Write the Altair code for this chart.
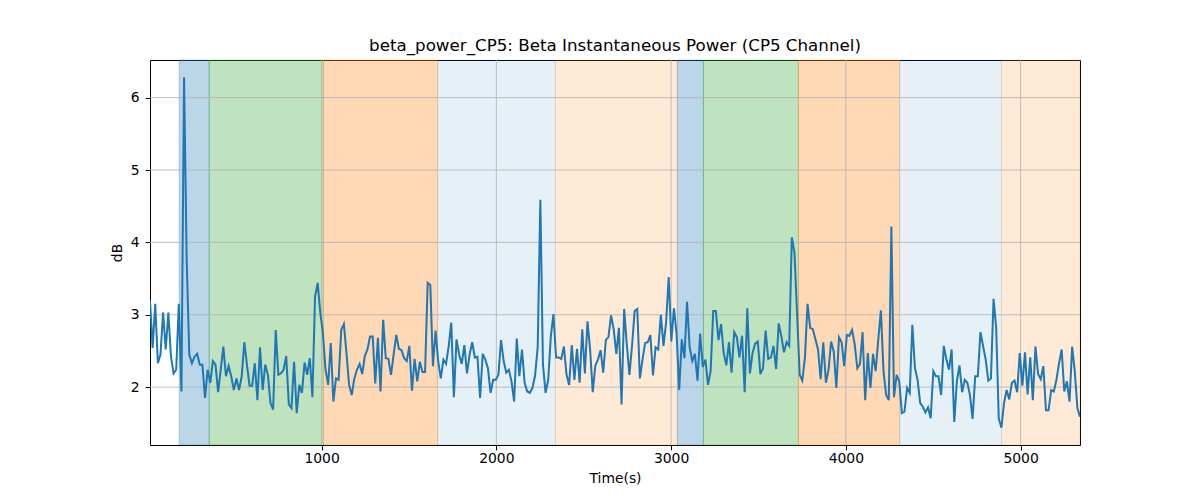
import altair as alt
import numpy as np
import pandas as pd

# ---- data ----
BETA_DB = [
    3.20, 2.54, 3.15, 2.33, 2.45, 3.03, 2.52, 3.03, 2.42, 2.19,
    2.24, 3.15, 1.94, 6.28, 3.76, 2.45, 2.33, 2.42, 2.46, 2.31,
    2.31, 1.85, 2.24, 2.06, 2.36, 2.31, 1.93, 2.24, 2.56, 2.15,
    2.29, 2.15, 1.96, 2.12, 1.96, 2.15, 2.62, 2.31, 2.02, 2.02,
    2.33, 1.82, 2.55, 1.96, 2.31, 2.17, 1.78, 1.69, 2.79, 2.17,
    2.19, 2.24, 2.43, 1.76, 1.71, 2.35, 1.64, 2.03, 1.92, 2.34,
    2.17, 2.40, 1.86, 3.25, 3.44, 3.03, 2.75, 2.24, 2.03, 2.61,
    1.80, 2.12, 2.10,
    2.79, 2.87, 2.47, 2.03, 1.89, 2.12, 2.24, 2.32, 2.18, 2.43,
    2.52, 2.70, 2.70, 2.05, 2.68, 1.94, 2.93, 2.40, 2.39, 2.17,
    2.45, 2.72, 2.53, 2.51, 2.40, 2.36, 2.57, 1.95, 2.39, 2.08,
    2.35, 2.21, 2.21, 3.44, 3.41, 2.29, 2.78, 2.36, 2.12, 2.38,
    2.32, 2.56, 2.89, 1.86, 2.66, 2.45, 2.32, 2.58, 2.19, 2.45,
    2.62, 2.41, 2.42, 1.85, 2.46, 2.38, 2.26, 1.92, 2.10, 2.10,
    2.17, 2.65, 2.36, 2.20, 2.24, 2.08, 1.80, 2.67, 2.15, 2.52,
    2.06, 1.94, 1.92,
    1.99, 2.16, 2.56, 4.59, 2.31, 1.92, 2.10, 2.70, 3.01, 2.41,
    2.41, 2.39, 2.56, 2.17, 2.03, 2.58, 2.10, 2.53, 2.06, 2.80,
    2.19, 2.91, 2.52, 1.93, 2.30, 2.38, 2.51, 2.20, 2.65, 2.69,
    2.99, 2.80, 2.46, 2.82, 1.76, 3.08, 2.59, 2.17, 2.57, 3.05,
    3.08, 2.12, 2.38, 2.61, 2.62, 2.72, 2.16, 2.55, 2.52, 3.00,
    2.57, 2.89, 3.52, 2.63, 3.09, 2.74, 1.96, 2.66, 2.40, 3.18,
    2.55, 2.36, 2.46, 2.09, 2.74, 2.28, 2.38, 2.03, 2.22, 3.05,
    3.05, 2.65,
    2.87, 2.47, 2.30, 2.62, 2.20, 2.76, 2.69, 2.41, 2.71, 1.93,
    3.09, 2.19, 2.47, 2.60, 2.63, 2.18, 2.26, 2.78, 2.39, 2.41,
    2.57, 2.25, 2.88, 2.70, 2.48, 2.62, 2.57, 4.07, 3.86, 3.02,
    2.17, 2.09, 2.41, 3.15, 2.82, 2.80, 2.66, 2.52, 2.11, 2.62,
    2.06, 2.24, 2.63, 2.49, 1.99, 2.69, 2.62, 2.29, 2.72, 2.71,
    2.79, 2.59, 2.26, 2.32, 2.76, 1.82, 2.47, 1.99, 2.46, 2.22,
    2.66, 3.06, 2.22, 1.89, 1.82, 4.22, 1.86, 2.17, 2.08, 1.64,
    1.66, 1.99, 1.92,
    2.86, 2.26, 2.10, 1.78, 1.73, 1.65, 1.72, 1.57, 2.22, 2.15,
    2.15, 1.89, 2.57, 2.38, 2.24, 2.52, 1.52, 2.08, 2.30, 1.93,
    2.10, 2.06, 1.89, 1.56, 2.15, 2.15, 2.76, 2.57, 2.38, 2.09,
    2.12, 3.22, 2.82, 1.56, 1.44, 1.78, 1.96, 1.83, 2.06, 2.09,
    1.93, 2.47, 2.02, 2.48, 1.90, 2.41, 1.82, 2.56, 2.18, 2.11,
    2.29, 1.68, 1.68, 1.96, 1.94, 2.10, 2.33, 2.52, 1.94, 2.08,
    1.80, 2.56, 2.22, 1.71, 1.59,
]
T_START, T_END = 18, 5340          # first and last sample time (s)

SPAN_START = [185, 357, 1010, 1664, 2338, 3036, 3185, 3729, 4308, 4891]
SPAN_END   = [357, 1010, 1664, 2338, 3036, 3185, 3729, 4308, 4891, 5340]
SPAN_COLOR = ["#1f77b4", "#2ca02c", "#ff7f0e", "#1f77b4", "#ff7f0e",
              "#1f77b4", "#2ca02c", "#ff7f0e", "#1f77b4", "#ff7f0e"]
SPAN_ALPHA = [0.3, 0.3, 0.3, 0.11, 0.16, 0.3, 0.3, 0.3, 0.11, 0.16]

X_TICKS = [1000, 2000, 3000, 4000, 5000]
Y_TICKS = [2, 3, 4, 5, 6]
X_DOMAIN = [18, 5340]
Y_DOMAIN = [1.20, 6.52]

TITLE = "beta_power_CP5: Beta Instantaneous Power (CP5 Channel)"

# ---- tables ----
times = np.linspace(T_START, T_END, len(BETA_DB))
line_df = pd.DataFrame({"t": times, "v": BETA_DB})
span_df = pd.DataFrame({"s": SPAN_START, "e": SPAN_END,
                        "c": SPAN_COLOR, "a": SPAN_ALPHA})
xg_df = pd.DataFrame({"t": X_TICKS})
yg_df = pd.DataFrame({"v": Y_TICKS})

FONT = "DejaVu Sans"
xscale = alt.Scale(domain=X_DOMAIN, nice=False, zero=False)
yscale = alt.Scale(domain=Y_DOMAIN, nice=False, zero=False)

xaxis = alt.Axis(values=X_TICKS, format="d", grid=False, domain=False,
                 tickSize=4.9, tickColor="black", tickWidth=1,
                 labelFont=FONT, labelFontSize=13.9, labelColor="black",
                 labelPadding=2, title="Time(s)", titleFont=FONT,
                 titleFontSize=13.9, titleFontWeight="normal",
                 titleColor="black", titlePadding=6)
yaxis = alt.Axis(values=Y_TICKS, format="d", grid=False, domain=False,
                 tickSize=4.9, tickColor="black", tickWidth=1,
                 labelFont=FONT, labelFontSize=13.9, labelColor="black",
                 labelPadding=6, title="dB", titleFont=FONT,
                 titleFontSize=13.9, titleFontWeight="normal",
                 titleColor="black", titlePadding=6)

spans = alt.Chart(span_df).mark_rect(strokeWidth=1).encode(
    x=alt.X("s:Q", scale=xscale, axis=xaxis),
    x2="e:Q",
    fill=alt.Fill("c:N", scale=None),
    stroke=alt.Stroke("c:N", scale=None),
    fillOpacity=alt.FillOpacity("a:Q", scale=None),
    strokeOpacity=alt.StrokeOpacity("a:Q", scale=None),
)

xgrid = alt.Chart(xg_df).mark_rule(color="#b0b0b0", strokeWidth=0.8).encode(
    x=alt.X("t:Q", scale=xscale)
)
ygrid = alt.Chart(yg_df).mark_rule(color="#b0b0b0", strokeWidth=0.8).encode(
    y=alt.Y("v:Q", scale=yscale, axis=yaxis)
)

line = alt.Chart(line_df).mark_line(color="#1f77b4", strokeWidth=2.0,
                                     clip=True).encode(
    x=alt.X("t:Q", scale=xscale),
    y=alt.Y("v:Q", scale=yscale),
)

chart = alt.layer(spans, xgrid, ygrid, line).properties(
    width=930, height=385,
    title=alt.TitleParams(TITLE, font=FONT, fontSize=16.7,
                          fontWeight="normal", color="black", offset=5),
    autosize=alt.AutoSizeParams(type="none"),
    padding={"left": 150, "top": 60, "right": 120, "bottom": 55},
    background="white",
).configure_view(stroke="black", strokeWidth=1)

chart.save("out.html", embed_options={"renderer": "svg", "actions": False})
